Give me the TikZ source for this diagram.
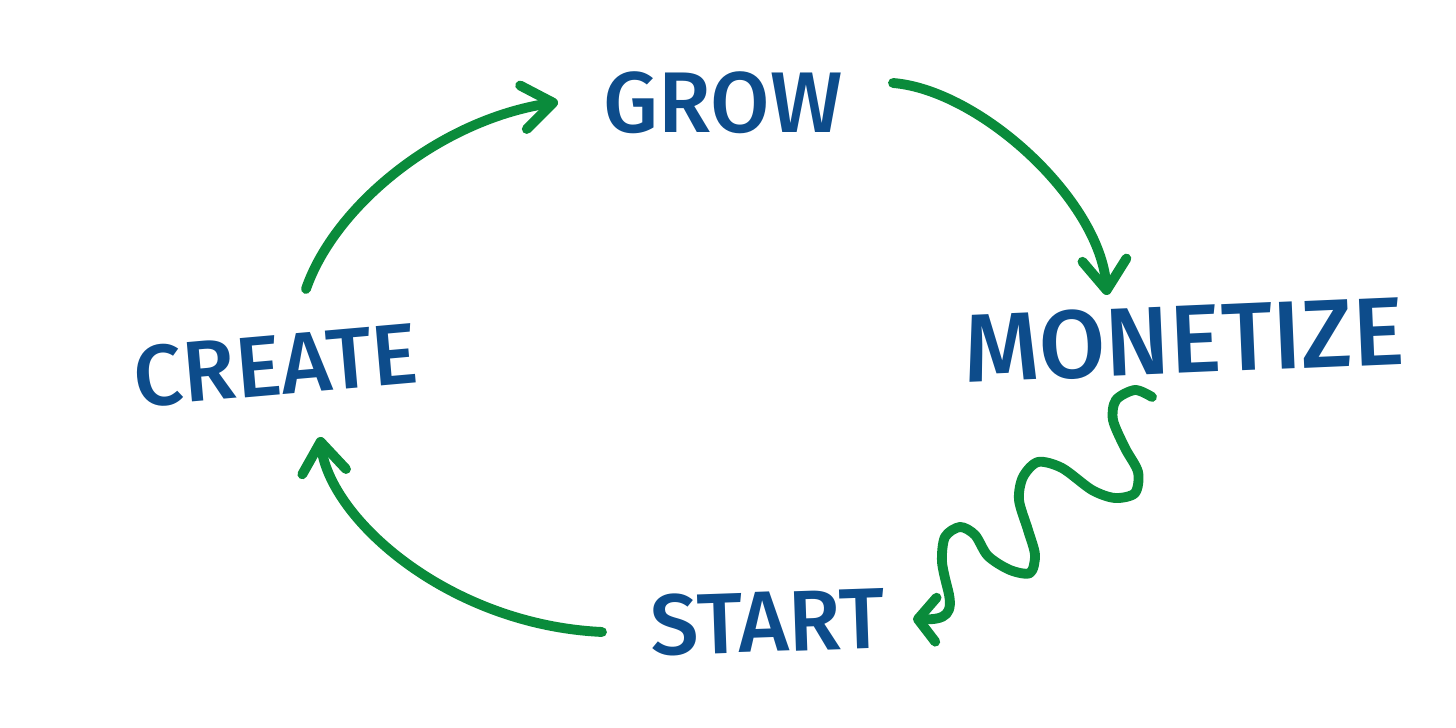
\documentclass[tikz,border=0pt]{standalone}
\usepackage{fontspec}
\setmainfont{Fira Sans}[BoldFont={Fira Sans Medium}]
\usepackage{tikz}
\usetikzlibrary{arrows.meta}
\definecolor{inkblue}{HTML}{0D4C8B}
\definecolor{inkgreen}{HTML}{0A8B3B}

\begin{document}
\begin{tikzpicture}[x=0.01cm, y=-0.01cm,
            word/.style={text=inkblue, inner sep=0pt, font=\fontsize{24.5}{30}\selectfont\bfseries},
            flow/.style={draw=inkgreen, line width=2.8pt, line cap=round, line join=round,
              -{Straight Barb[length=3mm, width=4.4mm, line cap=round, line join=round]}},
            wavy/.style={flow, -{Straight Barb[length=1.8mm, width=4.4mm, line cap=round, line join=round]}}]
        \useasboundingbox (0,0) rectangle (1456,728);

        \node[word] (grow) at (723,103) {GROW};
        \node[word, rotate=2.5, font=\fontsize{27.5}{32}\selectfont\bfseries] (monetize) at (1184,340) {MONETIZE};
        \node[word, rotate=2] (start) at (768,622) {START};
        \node[word, rotate=5] (create) at (276,365) {CREATE};

        \coordinate (wave in) at ([shift={(-32,57)}]monetize.center);
        \coordinate (wave out) at ([shift={(145,-3)}]start.center);

        \draw[flow] ([shift={(30,-76)}]create.center) .. controls (335,205) and (440,120) .. ([shift={(-165,-1)}]grow.center);
        \draw[flow] ([shift={(170,-20)}]grow.center) .. controls (980,90) and (1100,200) .. ([shift={(-77,-45)}]monetize.center);
        \draw[wavy] plot[smooth, tension=0.5] coordinates {(wave in) (1135,390) (1116,400) (1113,420) (1125,448)
            (1138,472) (1135,493) (1115,498) (1092,490) (1062,468) (1038,462) (1023,477) (1019,500)
            (1028,530) (1035,555) (1030,573) (1010,570) (988,556) (975,535) (960,527) (945,537)
            (942,562) (948,590)} .. controls (954,614) and (946,620) .. (wave out);
        \draw[flow] ([shift={(-166,10)}]start.center) .. controls (450,625) and (330,520) .. ([shift={(44,72)}]create.center);
    \end{tikzpicture}
\end{document}
